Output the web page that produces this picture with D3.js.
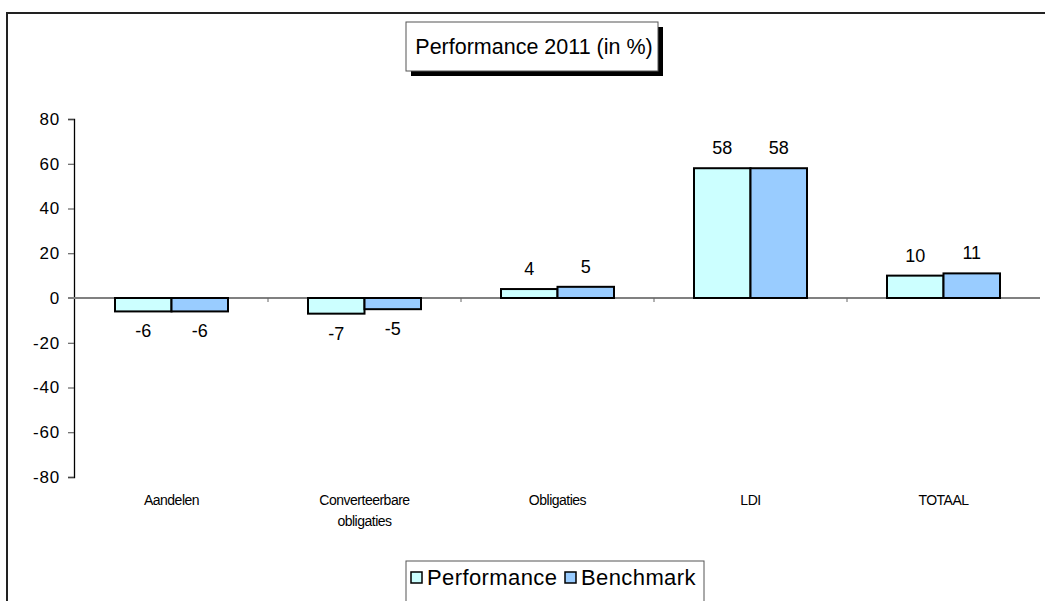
<!DOCTYPE html>
<html>
<head>
<meta charset="utf-8">
<script src="https://cdn.jsdelivr.net/npm/d3@7"></script>
<style>
  html, body { margin: 0; padding: 0; background: #fff; }
  svg { display: block; font-family: "Liberation Sans", Arial, sans-serif; }
</style>
</head>
<body>
<svg id="chart" width="1045" height="601"></svg>
<script>
// Performance 2011 per asset class, in percent
const categories = [["Aandelen"], ["Converteerbare", "obligaties"], ["Obligaties"], ["LDI"], ["TOTAAL"]];
const performance = [-6, -7, 4, 58, 10];
const benchmark = [-6, -5, 5, 58, 11];
const seriesNames = ["Performance", "Benchmark"];
const yTicks = [80, 60, 40, 20, 0, -20, -40, -60, -80];

const colors = ["#CCFFFF", "#99CCFF"];
const svg = d3.select("#chart");

// outer chart frame (extends past the right and bottom edges)
svg.append("path")
  .attr("d", "M7,601 L7,13 L1045,13")
  .attr("fill", "none").attr("stroke", "#222").attr("stroke-width", 2);

const plot = { left: 74, right: 1040, top: 119, bottom: 477 };

const x = d3.scaleBand()
  .domain(d3.range(categories.length))
  .range([plot.left + 1, plot.right])
  .paddingInner(0).paddingOuter(0);

const y = d3.scaleLinear().domain([-80, 80]).range([plot.bottom, plot.top]);

const barW = 56.5;
const offsets = [-barW, 0];

// y axis
const yAxis = d3.axisLeft(y).tickValues(yTicks).tickSize(6).tickPadding(8).tickFormat(d => String(d));
const ya = svg.append("g").attr("transform", `translate(${plot.left},0)`).call(yAxis);
ya.select(".domain").attr("stroke", "#000").attr("stroke-width", 1.3);
ya.selectAll(".tick line").attr("stroke", "#444");
ya.selectAll(".tick text").attr("font-size", 17).attr("fill", "#000")
  .attr("letter-spacing", 0.8)
  .attr("font-family", "Liberation Sans, Arial, sans-serif");

// zero line
svg.append("line")
  .attr("x1", plot.left - 6).attr("x2", plot.right)
  .attr("y1", y(0)).attr("y2", y(0))
  .attr("stroke", "#808080").attr("stroke-width", 2);

// category separator ticks on the zero line
svg.selectAll("line.sep").data(d3.range(1, categories.length))
  .join("line").attr("class", "sep")
  .attr("x1", d => x(d)).attr("x2", d => x(d))
  .attr("y1", y(0)).attr("y2", y(0) + 4)
  .attr("stroke", "#666").attr("stroke-width", 1);

// bars
const seriesData = [performance, benchmark];
seriesData.forEach((vals, s) => {
  svg.append("g").selectAll("rect").data(vals).join("rect")
    .attr("x", (d, i) => x(i) + x.bandwidth() / 2 + offsets[s])
    .attr("y", d => y(Math.max(0, d)))
    .attr("width", barW)
    .attr("height", d => Math.abs(y(d) - y(0)))
    .attr("fill", colors[s])
    .attr("stroke", "#000").attr("stroke-width", 2);

  // value labels
  svg.append("g").selectAll("text").data(vals).join("text")
    .attr("x", (d, i) => x(i) + x.bandwidth() / 2 + offsets[s] + barW / 2)
    .attr("y", d => d >= 0 ? y(d) - 14 : y(d) + 26)
    .attr("text-anchor", "middle")
    .attr("font-size", 18)
    .attr("fill", "#000")
    .text(d => d);
});

// category labels
const catG = svg.append("g").selectAll("text").data(categories).join("text")
  .attr("x", (d, i) => x(i) + x.bandwidth() / 2)
  .attr("y", 505)
  .attr("text-anchor", "middle")
  .attr("font-size", 14)
  .attr("letter-spacing", -0.5)
  .attr("fill", "#000");
catG.selectAll("tspan").data(d => d).join("tspan")
  .attr("x", function() { return this.parentNode.getAttribute("x"); })
  .attr("dy", (d, i) => i === 0 ? 0 : 21)
  .text(d => d);

// title box with shadow
const tb = { x: 406, y: 22, w: 252, h: 49 };
svg.append("rect").attr("x", tb.x + 5).attr("y", tb.y + 5).attr("width", tb.w).attr("height", tb.h).attr("fill", "#000");
svg.append("rect").attr("x", tb.x).attr("y", tb.y).attr("width", tb.w).attr("height", tb.h)
  .attr("fill", "#fff").attr("stroke", "#555").attr("stroke-width", 1);
svg.append("text")
  .attr("x", tb.x + tb.w / 2 + 2).attr("y", tb.y + 32)
  .attr("text-anchor", "middle").attr("font-size", 21.5).attr("fill", "#000")
  .text("Performance 2011 (in %)");

// legend
const lg = { x: 406, y: 561, w: 298, h: 50 };
svg.append("rect").attr("x", lg.x).attr("y", lg.y).attr("width", lg.w).attr("height", lg.h)
  .attr("fill", "#fff").attr("stroke", "#555").attr("stroke-width", 1);
const legendX = [411, 565];
seriesNames.forEach((name, s) => {
  svg.append("rect")
    .attr("x", legendX[s]).attr("y", 572).attr("width", 11).attr("height", 11)
    .attr("fill", colors[s]).attr("stroke", "#000").attr("stroke-width", 1.5);
  svg.append("text")
    .attr("x", legendX[s] + 16).attr("y", 585)
    .attr("font-size", 22).attr("letter-spacing", 0.4).attr("fill", "#000")
    .text(name);
});
</script>
</body>
</html>
